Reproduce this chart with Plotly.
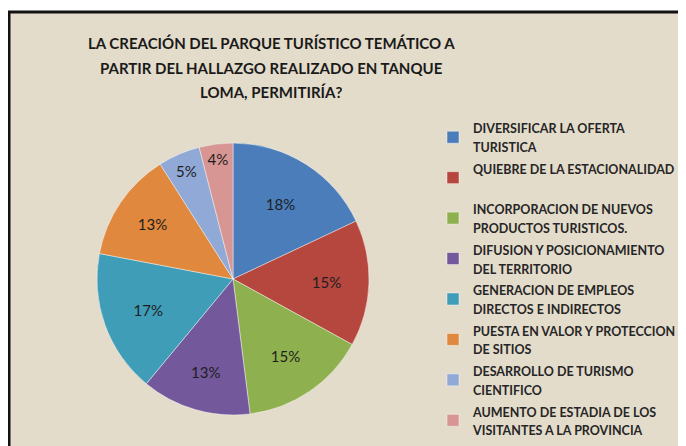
import plotly.graph_objects as go

title_lines = ["LA CREACIÓN DEL PARQUE TURÍSTICO TEMÁTICO A",
               "PARTIR DEL HALLAZGO REALIZADO EN TANQUE",
               "LOMA, PERMITIRÍA?"]
label_lines = [
    ["DIVERSIFICAR LA OFERTA", "TURISTICA"],
    ["QUIEBRE DE LA ESTACIONALIDAD", " "],
    ["INCORPORACION DE NUEVOS", "PRODUCTOS TURISTICOS."],
    ["DIFUSION Y POSICIONAMIENTO", "DEL TERRITORIO"],
    ["GENERACION DE EMPLEOS", "DIRECTOS E INDIRECTOS"],
    ["PUESTA EN VALOR Y PROTECCION", "DE SITIOS"],
    ["DESARROLLO DE TURISMO", "CIENTIFICO"],
    ["AUMENTO DE ESTADIA DE LOS", "VISITANTES A LA PROVINCIA"],
]
values = [18, 15, 15, 13, 17, 13, 5, 4]
colors = ["#4A7DBA", "#B5473F", "#8FB04F", "#73589B",
          "#3F9DB8", "#E0883D", "#90A9D6", "#D79693"]

W, H = 686, 446
OFF = 8  # page body margin offset
BG = "#E4DCCB"
FONT = "Lato, Open Sans, sans-serif"

labels = ["<br>".join('<span style="font-size:12.5px">%s</span>' % ln for ln in lines)
          for lines in label_lines]

fig = go.Figure(go.Pie(
    labels=labels, values=values, sort=False, direction="clockwise", rotation=0,
    marker=dict(colors=colors, line=dict(color="rgba(255,255,255,0.55)", width=0.8)),
    texttemplate="%{percent:.0%}", textposition="inside",
    insidetextorientation="horizontal",
    textfont=dict(family=FONT, size=15, color="#1E1E1E"),
    domain=dict(x=[89 / W, 361 / W], y=[1 - 407 / H, 1 - 135 / H]),
    hoverinfo="percent",
))

annotations = []
for i, line in enumerate(title_lines):
    annotations.append(dict(
        text=line, xref="paper", yref="paper", x=(271 - OFF) / W,
        y=1 - (43 - OFF + 24.5 * i) / H,
        xanchor="center", yanchor="middle", showarrow=False,
        font=dict(family=FONT, size=15, color="#1A1A1A", weight="bold")))

fig.update_layout(
    width=W, height=H,
    margin=dict(l=0, r=0, t=0, b=0),
    paper_bgcolor="white", plot_bgcolor="white",
    annotations=annotations,
    legend=dict(x=425 / W, xanchor="left", y=1 - 104 / H, yanchor="top",
                font=dict(family=FONT, size=14.4, color="#262626", weight="bold"),
                bgcolor="rgba(0,0,0,0)", traceorder="normal"),
    shapes=[
        dict(type="rect", xref="paper", yref="paper", x0=1 / W, x1=1.02,
             y0=-0.02, y1=1 - 4 / H, fillcolor=BG, line=dict(width=0), layer="below"),
        dict(type="line", xref="paper", yref="paper", x0=1 / W, x1=1 / W,
             y0=-0.02, y1=1 - 3 / H, line=dict(color="#111111", width=3)),
        dict(type="line", xref="paper", yref="paper", x0=0, x1=1.02,
             y0=1 - 4 / H, y1=1 - 4 / H, line=dict(color="#111111", width=3)),
    ],
)

fig.write_html("out.html")
